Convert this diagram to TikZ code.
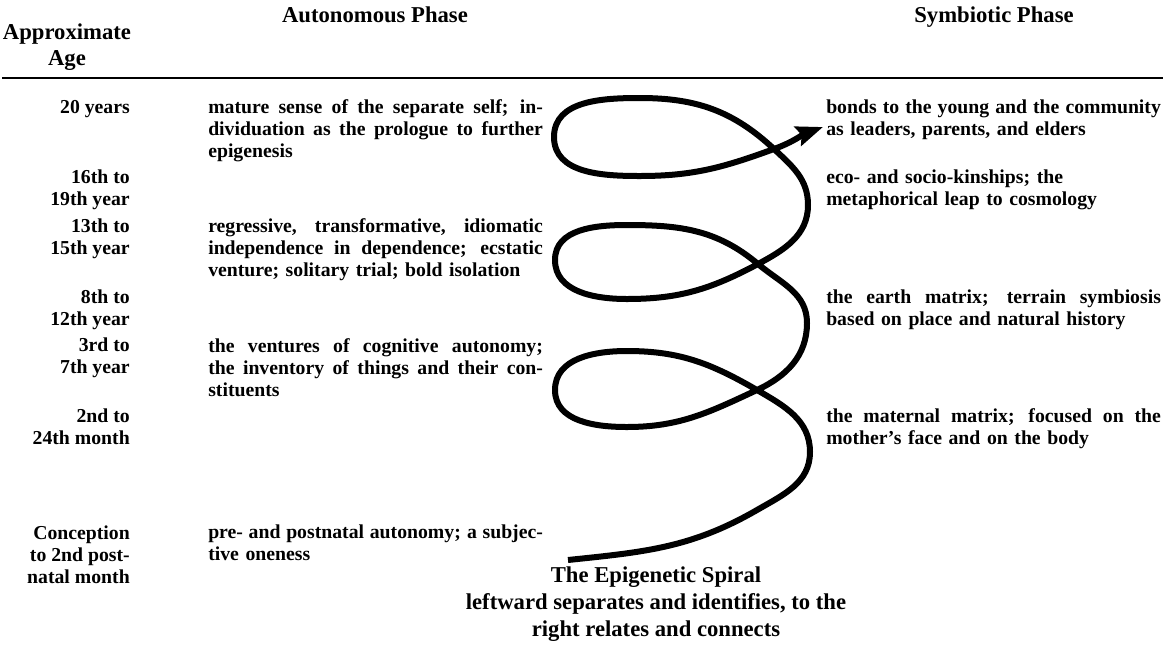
\documentclass[tikz,border=0pt]{standalone}
\usepackage{fontspec}
\setmainfont{Liberation Serif}
\usetikzlibrary{arrows.meta, positioning}
\newcommand\bodyfont{\fontsize{14.8}{16.5}\selectfont\bfseries}
\newcommand\headfont{\fontsize{17}{19.5}\selectfont\bfseries}
\newcommand\capfont{\fontsize{17}{20}\selectfont\bfseries}
% a justified line of the full column width
\newcommand\just[1]{\makebox[251pt][s]{\spaceskip=0.25em plus 1em minus 0.05em\xspaceskip=\spaceskip #1}}
\tikzset{
  head/.style    = {font=\headfont, align=center, inner sep=0pt, anchor=base},
  age/.style     = {font=\bodyfont, align=right, inner sep=0pt, anchor=base east},
  autotxt/.style = {font=\bodyfont, align=left, text width=251pt, inner sep=0pt, anchor=base west},
  symtxt/.style  = {font=\bodyfont, align=left, text width=251pt, inner sep=0pt, anchor=base west},
  rulel/.style   = {line width=1.5pt},
  spiral/.style  = {line width=4.5pt, -{Stealth[length=20pt, width=15pt, inset=3pt]}},
}

\begin{document}
\begin{tikzpicture}[x=0.75pt, y=0.75pt]
\useasboundingbox (0,0) rectangle (1165,-644);

% Column heads and rule (multi-line nodes sit on their last line)
\node (hage)  [head] at (67,-65)  {Approximate\\Age};
\node (hauto) [head] at (375,-22) {Autonomous Phase};
\node (hsym)  [head] at (994,-22) {Symbiotic Phase};
\coordinate (ruleL) at (2,-78);
\coordinate (ruleR) at (1163,-78);
\draw [rulel] (ruleL) -- (ruleR);

% Ages, right aligned
\node (a20) [age] at (130,-113) {20 years};
\node (a16) [age] at (130,-205) {16th to\\19th year};
\node (a13) [age] at (130,-254) {13th to\\15th year};
\node (a8)  [age] at (130,-325) {8th to\\12th year};
\node (a3)  [age] at (130,-373) {3rd to\\7th year};
\node (a2)  [age] at (130,-444) {2nd to\\24th month};
\node (a0)  [age] at (130,-583) {Conception\\to 2nd post-\\natal month};

% Autonomous phase
\node (u20) [autotxt] at (208,-113) {\just{mature sense of the separate self; in-}\\\just{dividuation as the prologue to further}\\epigenesis};
\node (u13) [autotxt] at (208,-232) {\just{regressive, transformative, idiomatic}\\\just{independence in dependence; ecstatic}\\venture; solitary trial; bold isolation};
\node (u3)  [autotxt] at (208,-352) {\just{the ventures of cognitive autonomy;}\\\just{the inventory of things and their con-}\\stituents};
\node (u0)  [autotxt] at (208,-538) {\just{pre- and postnatal autonomy; a subjec-}\\tive oneness};

% Symbiotic phase
\node (s20) [symtxt] at (826,-113) {\just{bonds to the young and the community}\\as leaders, parents, and elders};
\node (s16) [symtxt] at (826,-183) {eco- and socio-kinships; the\\metaphorical leap to cosmology};
\node (s8)  [symtxt] at (826,-303) {\just{the earth matrix; terrain symbiosis}\\based on place and natural history};
\node (s2)  [symtxt] at (826,-422) {\just{the maternal matrix; focused on the}\\mother's face and on the body};

% The spiral, from the bottom up
\coordinate (p0)  at (568,-560);
\coordinate (m0)  at (757,-510);
\coordinate (b1)  at (810,-452);
\coordinate (c1)  at (757,-390);
\coordinate (t1)  at (627,-351);
\coordinate (l1)  at (555,-390);
\coordinate (d1)  at (627,-427);
\coordinate (b2)  at (807,-323);
\coordinate (c2)  at (758,-264);
\coordinate (t2)  at (627,-225);
\coordinate (l2)  at (555,-260);
\coordinate (d2)  at (627,-299);
\coordinate (b3)  at (808,-205);
\coordinate (c3)  at (774,-149);
\coordinate (t3)  at (640,-98);
\coordinate (l3)  at (554,-137);
\coordinate (d3)  at (640,-176);
\coordinate (tip) at (823,-127);

\draw [spiral] (p0) to[out=6,in=-150] (m0) to[out=30,in=-90] (b1)
  to[out=90,in=-30] (c1) to[out=150,in=0] (t1) to[out=180,in=90] (l1)
  to[out=-90,in=180] (d1) to[out=0,in=-155] (c1) to[out=25,in=-90] (b2)
  to[out=90,in=-40] (c2) to[out=140,in=0] (t2) to[out=180,in=90] (l2)
  to[out=-90,in=180] (d2) to[out=0,in=-152] (c2) to[out=28,in=-90] (b3)
  to[out=90,in=-43] (c3) to[out=137,in=0] (t3) to[out=180,in=90] (l3)
  to[out=-90,in=180] (d3) to[out=0,in=-160] (c3) to[out=20,in=-160] (tip);

% Caption
\node (cap) [head, font=\capfont] at (656,-636) {The Epigenetic Spiral\\leftward separates and identifies, to the\\right relates and connects};

\end{tikzpicture}
\end{document}
